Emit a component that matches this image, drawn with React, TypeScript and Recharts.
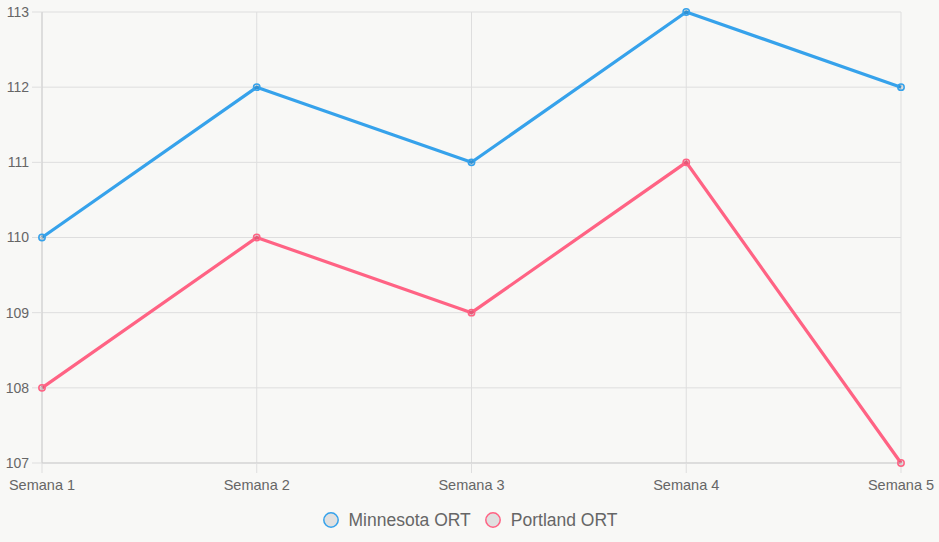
import {
  LineChart,
  Line,
  XAxis,
  YAxis,
  CartesianGrid,
  Legend,
} from 'recharts';

const weeks = ['Semana 1', 'Semana 2', 'Semana 3', 'Semana 4', 'Semana 5'];
const minnesotaOrt = [110, 112, 111, 113, 112];
const portlandOrt = [108, 110, 109, 111, 107];
const yTicks = [107, 108, 109, 110, 111, 112, 113];

const series = [
  { key: 'minnesota', name: 'Minnesota ORT', color: '#36a2eb' },
  { key: 'portland', name: 'Portland ORT', color: '#ff6384' },
];

const chartData = weeks.map((week, i) => ({
  week,
  minnesota: minnesotaOrt[i],
  portland: portlandOrt[i],
}));

const GRID = '#dedede';
const TEXT = '#666666';
const FONT = '"Liberation Sans", Arial, Helvetica, sans-serif';

const LegendContent = () => (
  <div
    style={{
      display: 'flex',
      justifyContent: 'center',
      alignItems: 'center',
      height: 36,
      fontFamily: FONT,
      fontSize: 17.5,
      color: TEXT,
    }}
  >
    {series.map((s) => (
      <div key={s.key} style={{ display: 'flex', alignItems: 'center', margin: '0 6.5px' }}>
        <svg width={18} height={18} style={{ marginRight: 9 }}>
          <circle cx={9} cy={9} r={7.2} fill="#e0e0e0" stroke={s.color} strokeWidth={1.5} />
        </svg>
        <span>{s.name}</span>
      </div>
    ))}
  </div>
);

export default function App() {
  return (
    <div style={{ position: 'absolute', left: 0, top: 0, width: 939, height: 542, background: '#f8f8f6' }}>
      <LineChart
        width={939}
        height={542}
        data={chartData}
        margin={{ top: 12, right: 38, left: 0, bottom: 4 }}
      >
        <CartesianGrid stroke={GRID} />
        <XAxis
          dataKey="week"
          height={39}
          tickSize={10}
          tickMargin={7}
          stroke={GRID}
          tick={{ fill: TEXT, fontSize: 14.5, fontFamily: FONT }}
          tickLine={{ stroke: GRID }}
          axisLine={{ stroke: '#cfcfcf' }}
        />
        <YAxis
          width={42}
          domain={[107, 113]}
          ticks={yTicks}
          tickSize={10}
          tickMargin={3}
          stroke={GRID}
          tick={{ fill: TEXT, fontSize: 14, fontFamily: FONT }}
          tickLine={{ stroke: GRID }}
          axisLine={{ stroke: '#cfcfcf' }}
        />
        <Legend
          verticalAlign="bottom"
          height={36}
          wrapperStyle={{ left: 0, width: 939 }}
          content={<LegendContent />}
        />
        {series.map((s) => (
          <Line
            key={s.key}
            type="linear"
            dataKey={s.key}
            name={s.name}
            stroke={s.color}
            strokeWidth={3.2}
            dot={{ r: 3.2, fill: 'rgba(0,0,0,0.1)', stroke: s.color, strokeWidth: 1.5 }}
            isAnimationActive={false}
          />
        ))}
      </LineChart>
    </div>
  );
}
